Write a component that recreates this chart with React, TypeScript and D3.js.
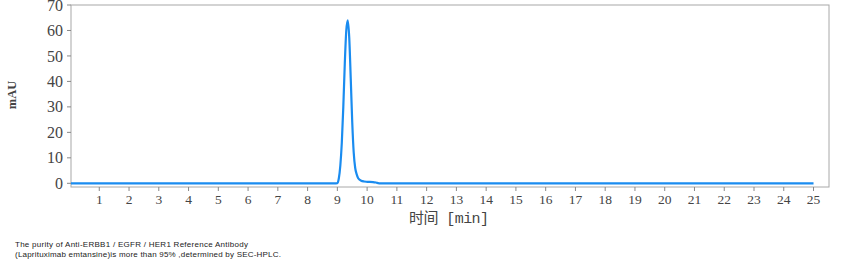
import React from "react";
import * as d3 from "d3";

const times = [0.05, 8.9, 9.0, 9.05, 9.1, 9.15, 9.2, 9.25, 9.3, 9.35, 9.4, 9.45, 9.5, 9.55, 9.6, 9.65, 9.7, 9.8, 9.9, 10.0, 10.2, 10.3, 10.4, 25.0];
const mAU = [0, 0, 0.1, 2, 7, 16, 30, 47, 60, 64, 57, 41, 24, 12, 6, 3.5, 2, 1, 0.7, 0.6, 0.5, 0.3, 0, 0];
const xTicks = d3.range(1, 26);
const yTicks = [0, 10, 20, 30, 40, 50, 60, 70];
const xLabel = "时间 [min]";
const yLabel = "mAU";
const caption = [
  "The purity of Anti-ERBB1 / EGFR / HER1 Reference Antibody",
  "(Laprituximab emtansine)is more than 95% ,determined by SEC-HPLC.",
];

export default function App() {
  const W = 845, H = 269;
  const left = 71, right = 829, top = 5, bottom = 187;
  const x = d3.scaleLinear().domain([0.05, 25.52]).range([left, right]);
  const y = d3.scaleLinear().domain([-1.45, 70]).range([bottom, top]);
  const pts = times.map((t, i) => [t, mAU[i]] as [number, number]);
  const path = d3.line<[number, number]>().x(d => x(d[0])).y(d => y(d[1])).curve(d3.curveMonotoneX)(pts) || "";
  const serif = "'Liberation Serif', 'DejaVu Serif', serif";
  return (
    <svg width={W} height={H} style={{ position: "absolute", left: 0, top: 0, background: "#fff" }}>
      <rect x={left} y={top} width={right - left} height={bottom - top} fill="none" stroke="#a8a8a8" strokeWidth={1} />
      {yTicks.map(v => (
        <g key={"y" + v}>
          <line x1={left - 4} x2={left} y1={y(v)} y2={y(v)} stroke="#888" />
          <text x={left - 8} y={y(v)} dy="0.35em" textAnchor="end" fontFamily={serif} fontSize={16} fill="#444">{v}</text>
        </g>
      ))}
      {xTicks.map(v => (
        <g key={"x" + v}>
          <line x1={x(v)} x2={x(v)} y1={bottom} y2={bottom + 4} stroke="#888" />
          <text x={x(v)} y={204} textAnchor="middle" fontFamily={serif} fontSize={13.5} fill="#444">{v}</text>
        </g>
      ))}
      <path d={path} fill="none" stroke="#1a8cf0" strokeWidth={2.2} strokeLinejoin="round" />
      <text transform={`translate(16,${95}) rotate(-90)`} textAnchor="middle" fontFamily={serif} fontWeight="bold" fontSize={12.5} fill="#444">{yLabel}</text>
      <text x={409} y={223} fontFamily="'Liberation Mono', 'Noto Sans CJK SC', monospace" fontSize={15} fill="#444" textLength={80}>{xLabel}</text>
      <text x={15} y={247} fontFamily="'Liberation Sans', Arial, sans-serif" fontSize={8} fill="#222" textLength={233}>{caption[0]}</text>
      <text x={15} y={257} fontFamily="'Liberation Sans', Arial, sans-serif" fontSize={8} fill="#222" textLength={266}>{caption[1]}</text>
    </svg>
  );
}
